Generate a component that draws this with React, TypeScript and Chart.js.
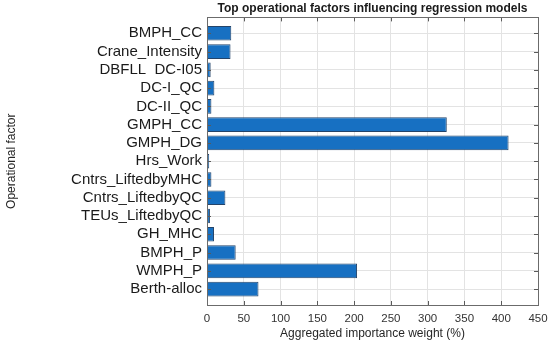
import React, { useEffect, useRef } from "react";
import { Chart, registerables } from "chart.js";

Chart.register(...registerables);

const categories: string[] = [
  "BMPH_CC",
  "Crane_Intensity",
  "DBFLL  DC-I05",
  "DC-I_QC",
  "DC-II_QC",
  "GMPH_CC",
  "GMPH_DG",
  "Hrs_Work",
  "Cntrs_LiftedbyMHC",
  "Cntrs_LiftedbyQC",
  "TEUs_LiftedbyQC",
  "GH_MHC",
  "BMPH_P",
  "WMPH_P",
  "Berth-alloc",
];

const importance: number[] = [33, 32, 5, 10, 6, 326, 410, 3, 6, 25, 4, 9.5, 39, 204, 70];

const xTicks: number[] = [0, 50, 100, 150, 200, 250, 300, 350, 400, 450];

const frameAndTicks = {
  id: "frameAndTicks",
  afterDatasetsDraw(chart: any) {
    const { ctx, chartArea: a, scales } = chart;
    ctx.save();
    ctx.strokeStyle = "#5a5a5a";
    ctx.lineWidth = 1;
    ctx.beginPath();
    const L = 4;
    scales.x.ticks.forEach((t: any) => {
      const px = Math.round(scales.x.getPixelForValue(t.value)) + 0.5;
      ctx.moveTo(px, a.top);
      ctx.lineTo(px, a.top + L);
      ctx.moveTo(px, a.bottom);
      ctx.lineTo(px, a.bottom - L);
    });
    scales.y.ticks.forEach((t: any) => {
      const py = Math.round(scales.y.getPixelForValue(t.value)) + 0.5;
      ctx.moveTo(a.right, py);
      ctx.lineTo(a.right - L, py);
      ctx.moveTo(a.left, py);
      ctx.lineTo(a.left + L, py);
    });
    ctx.stroke();
    ctx.strokeStyle = "#6b6b6b";
    ctx.strokeRect(
      Math.round(a.left) + 0.5,
      Math.round(a.top) + 0.5,
      Math.round(a.right - a.left),
      Math.round(a.bottom - a.top)
    );
    ctx.restore();
  },
};

export default function App() {
  const ref = useRef<HTMLCanvasElement | null>(null);

  useEffect(() => {
    document.body.style.margin = "0";
    const canvas = ref.current;
    if (!canvas) return;
    const chart = new Chart(canvas, {
      type: "bar",
      data: {
        datasets: [
          {
            data: importance.map((v, i) => ({ x: v, y: i })),
            backgroundColor: "#1770c2",
            borderColor: "#24446a",
            borderWidth: 1,
            barPercentage: 1,
            categoryPercentage: 0.8,
          },
        ],
      },
      plugins: [frameAndTicks],
      options: {
        indexAxis: "y",
        animation: false,
        responsive: false,
        maintainAspectRatio: false,
        layout: { padding: { left: 4, right: 12, top: 0, bottom: 0 } },
        plugins: {
          legend: { display: false },
          tooltip: { enabled: false },
          title: {
            display: true,
            fullSize: false,
            text: "Top operational factors influencing regression models",
            color: "#1a1a1a",
            font: { family: "Liberation Sans", size: 12, weight: "bold" },
            padding: { top: 1, bottom: 2 },
          },
        },
        scales: {
          x: {
            type: "linear",
            min: 0,
            max: 450,
            afterBuildTicks: (s: any) => {
              s.ticks = xTicks.map((v) => ({ value: v }));
            },
            afterFit: (s: any) => {
              s.height = 36;
              s.paddingLeft = 0;
              s.paddingRight = 0;
            },
            grid: { color: "#e3e3e3", drawTicks: false, tickLength: 0 },
            border: { display: false },
            ticks: {
              color: "#333333",
              padding: 7,
              font: { family: "Liberation Sans", size: 11.5 },
            },
            title: {
              display: true,
              text: "Aggregated importance weight (%)",
              color: "#262626",
              font: { family: "Liberation Sans", size: 12 },
              padding: { top: 0, bottom: 0 },
            },
          },
          y: {
            type: "linear",
            reverse: true,
            offset: false,
            min: -0.87,
            max: 14.87,
            afterBuildTicks: (s: any) => {
              s.ticks = categories.map((_, i) => ({ value: i }));
            },
            afterFit: (s: any) => {
              s.width = 203;
              s.paddingTop = 0;
              s.paddingBottom = 0;
            },
            grid: { color: "#e3e3e3", offset: false, drawTicks: false, tickLength: 0 },
            border: { display: false },
            ticks: {
              color: "#1a1a1a",
              padding: 5,
              autoSkip: false,
              font: { family: "Liberation Sans", size: 15 },
              callback: (v: any) => categories[Math.round(Number(v))] ?? "",
            },
            title: {
              display: true,
              text: "Operational factor",
              color: "#262626",
              font: { family: "Liberation Sans", size: 12 },
              padding: { top: 0, bottom: 0 },
            },
          },
        },
      },
    } as any);
    return () => chart.destroy();
  }, []);

  return (
    <div style={{ width: 550, height: 341 }}>
      <canvas ref={ref} width={550} height={341} style={{ display: "block" }} />
    </div>
  );
}
